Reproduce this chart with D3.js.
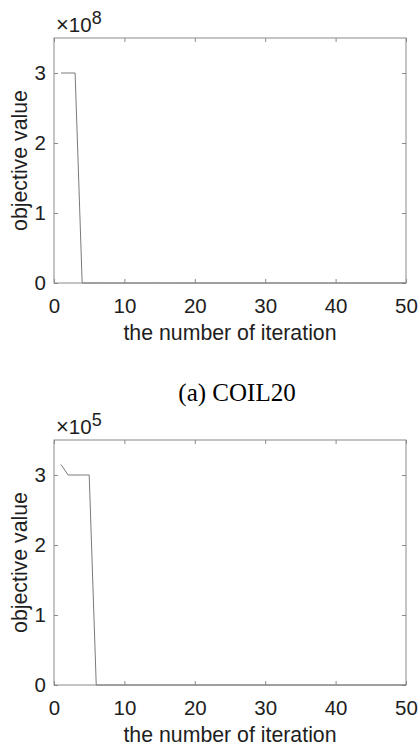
<!DOCTYPE html>
<html>
<head>
<meta charset="utf-8">
<script src="https://cdn.jsdelivr.net/npm/d3@7/dist/d3.min.js"></script>
<style>
  html, body { margin: 0; padding: 0; background: #fff; }
  svg { display: block; }
</style>
</head>
<body>
<svg id="fig" width="418" height="747"></svg>
<script>
// Iteration index shared by both convergence curves
const iterations = [
  1, 2, 3, 4, 5, 6, 7, 8, 9, 10,
  11, 12, 13, 14, 15, 16, 17, 18, 19, 20,
  21, 22, 23, 24, 25, 26, 27, 28, 29, 30,
  31, 32, 33, 34, 35, 36, 37, 38, 39, 40,
  41, 42, 43, 44, 45, 46, 47, 48, 49, 50
];

// Objective value per iteration, COIL20
const coilObjective = [
  3.0e8, 3.0e8, 3.0e8, 0, 0, 0, 0, 0, 0, 0,
  0, 0, 0, 0, 0, 0, 0, 0, 0, 0,
  0, 0, 0, 0, 0, 0, 0, 0, 0, 0,
  0, 0, 0, 0, 0, 0, 0, 0, 0, 0,
  0, 0, 0, 0, 0, 0, 0, 0, 0, 0
];

// Objective value per iteration, second data set
const secondObjective = [
  3.15e5, 3.0e5, 3.0e5, 3.0e5, 3.0e5, 0, 0, 0, 0, 0,
  0, 0, 0, 0, 0, 0, 0, 0, 0, 0,
  0, 0, 0, 0, 0, 0, 0, 0, 0, 0,
  0, 0, 0, 0, 0, 0, 0, 0, 0, 0,
  0, 0, 0, 0, 0, 0, 0, 0, 0, 0
];

// Axis tick values and labels
const xTicks = [0, 10, 20, 30, 40, 50];
const yTicks = [0, 1, 2, 3];
const panelExponents = [8, 5];
const xDomain = [0, 50];
const yDomainScaled = [0, 3.5];

const xLabelText = "the number of iteration";
const yLabelText = "objective value";
const captionText = "(a) COIL20";

const svg = d3.select("#fig");
const axisColor = "#8a8a8a";
const textColor = "#1e1e1e";
const lineColor = "#7a7a7a";
const sans = "'Liberation Sans', Arial, sans-serif";
const tickFont = 20.5;
const labelFont = 21.3;

function drawPanel(values, exponent, top) {
  const left = 54, right = 406, height = 245;
  const bottom = top + height;
  const factor = Math.pow(10, exponent);

  const x = d3.scaleLinear().domain(xDomain).range([left, right]);
  const y = d3.scaleLinear().domain(yDomainScaled.map(v => v * factor)).range([bottom, top]);

  const g = svg.append("g");

  // box
  g.append("rect")
    .attr("x", left).attr("y", top)
    .attr("width", right - left).attr("height", height)
    .attr("fill", "none").attr("stroke", axisColor).attr("stroke-width", 1);

  const tickLen = 4;
  // bottom axis with inward ticks
  const xAxisBottom = d3.axisBottom(x).tickValues(xTicks).tickSizeInner(-tickLen).tickSizeOuter(0).tickPadding(15.5);
  const gx = g.append("g").attr("transform", `translate(0,${bottom})`).call(xAxisBottom);
  gx.select(".domain").remove();
  gx.selectAll(".tick line").attr("stroke", axisColor);
  gx.selectAll(".tick text")
    .attr("fill", textColor).attr("font-family", sans).attr("font-size", tickFont);

  // top ticks
  const xAxisTop = d3.axisTop(x).tickValues(xTicks).tickSizeInner(-tickLen).tickSizeOuter(0).tickFormat("");
  const gxt = g.append("g").attr("transform", `translate(0,${top})`).call(xAxisTop);
  gxt.select(".domain").remove();
  gxt.selectAll(".tick line").attr("stroke", axisColor);

  // left axis with scaled labels
  const yAxisLeft = d3.axisLeft(y).tickValues(yTicks.map(v => v * factor))
    .tickSizeInner(-tickLen).tickSizeOuter(0).tickPadding(8)
    .tickFormat(v => d3.format("d")(Math.round(v / factor)));
  const gy = g.append("g").attr("transform", `translate(${left},0)`).call(yAxisLeft);
  gy.select(".domain").remove();
  gy.selectAll(".tick line").attr("stroke", axisColor);
  gy.selectAll(".tick text")
    .attr("fill", textColor).attr("font-family", sans).attr("font-size", tickFont);

  // right ticks
  const yAxisRight = d3.axisRight(y).tickValues(yTicks.map(v => v * factor))
    .tickSizeInner(-tickLen).tickSizeOuter(0).tickFormat("");
  const gyr = g.append("g").attr("transform", `translate(${right},0)`).call(yAxisRight);
  gyr.select(".domain").remove();
  gyr.selectAll(".tick line").attr("stroke", axisColor);

  // exponent marker above the axes
  const ex = g.append("text")
    .attr("x", left + 2).attr("y", top - 6)
    .attr("fill", textColor).attr("font-family", sans).attr("font-size", tickFont);
  ex.append("tspan").attr("font-size", 22).text("\u00d7");
  ex.append("tspan").text("10");
  ex.append("tspan").attr("dy", -8).attr("font-size", 18).text(exponent);

  // curve
  const line = d3.line().x((d, i) => x(iterations[i])).y(d => y(d));
  g.append("path")
    .datum(values)
    .attr("d", line)
    .attr("fill", "none")
    .attr("stroke", lineColor)
    .attr("stroke-width", 1);

  // axis labels
  g.append("text")
    .attr("x", (left + right) / 2).attr("y", bottom + 57)
    .attr("text-anchor", "middle")
    .attr("fill", textColor).attr("font-family", sans).attr("font-size", labelFont)
    .text(xLabelText);

  g.append("text")
    .attr("transform", `translate(27,${(top + bottom) / 2}) rotate(-90)`)
    .attr("text-anchor", "middle")
    .attr("fill", textColor).attr("font-family", sans).attr("font-size", labelFont)
    .text(yLabelText);
}

drawPanel(coilObjective, panelExponents[0], 38);
drawPanel(secondObjective, panelExponents[1], 440);

// caption for the first panel
svg.append("text")
  .attr("x", 237).attr("y", 401)
  .attr("text-anchor", "middle")
  .attr("fill", "#000")
  .attr("font-family", "'Liberation Serif', 'Times New Roman', serif")
  .attr("font-size", 25)
  .text(captionText);
</script>
</body>
</html>
